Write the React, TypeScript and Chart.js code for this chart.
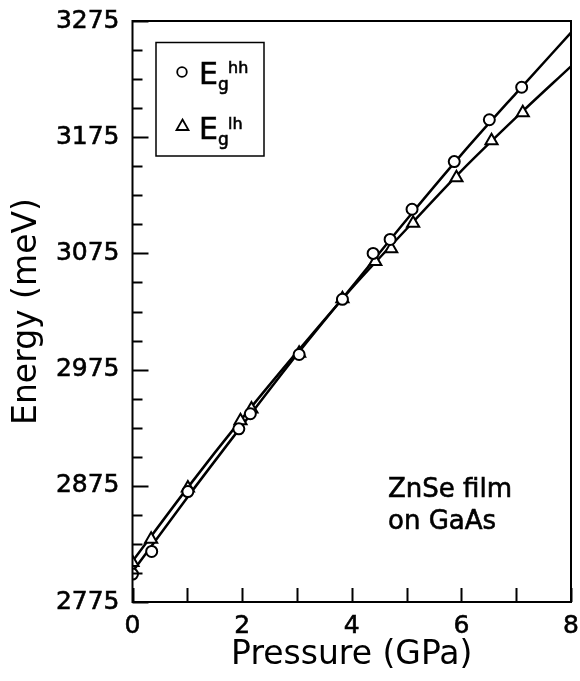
import React, { useEffect, useRef } from 'react';
import { Chart, registerables } from 'chart.js';

Chart.register(...registerables);

// Axis tick labels
const xTickLabels = [0, 2, 4, 6, 8];
const yTickLabels = [2775, 2875, 2975, 3075, 3175, 3275];

// Measured points: heavy-hole gap (circles)
const hhPressure = [0, 0.35, 1.01, 1.94, 2.15, 3.04, 3.83, 4.39, 4.7, 5.1, 5.87, 6.51, 7.1];
const hhEnergy = [2799, 2818.5, 2870, 2924, 2937, 2988, 3035.5, 3075, 3087, 3113, 3154, 3190, 3218];

// Measured points: light-hole gap (triangles)
const lhPressure = [0, 0.34, 1.01, 1.97, 2.17, 3.04, 3.83, 4.43, 4.72, 5.12, 5.91, 6.55, 7.12];
const lhEnergy = [2809, 2829, 2873, 2931, 2941, 2989, 3036, 3068, 3079, 3101, 3140, 3172, 3196];

// Fitted curves
const fitPressure = [0, 1, 2, 3, 4, 5, 6, 7, 8];
const hhFit = [2801, 2865, 2927, 2988, 3046, 3104, 3160, 3213, 3265];
const lhFit = [2810, 2873, 2933, 2990, 3045, 3096, 3146, 3192, 3236];

const FONT = '"DejaVu Sans", sans-serif';

export default function App() {
  const ref = useRef<HTMLCanvasElement>(null);

  useEffect(() => {
    const canvas = ref.current;
    if (!canvas) return;

    const framePlugin = {
      id: 'frame',
      afterDraw(chart: any) {
        const { ctx, chartArea: a, scales } = chart;
        const xs = scales.x;
        const ys = scales.y;
        ctx.save();
        ctx.strokeStyle = '#000';
        ctx.lineWidth = 2;
        ctx.strokeRect(a.left, a.top, a.right - a.left, a.bottom - a.top);

        // inward y ticks
        const yStep = (yTickLabels[1] - yTickLabels[0]) / 4;
        let i = 0;
        for (let v = yTickLabels[0]; v <= yTickLabels[yTickLabels.length - 1] + 0.01; v += yStep) {
          const py = Math.round(ys.getPixelForValue(v)) + 0.5;
          const len = i % 4 === 0 ? 16 : 10;
          ctx.beginPath();
          ctx.moveTo(a.left, py);
          ctx.lineTo(a.left + len, py);
          ctx.stroke();
          i++;
        }
        // inward x ticks
        const xStep = (xTickLabels[1] - xTickLabels[0]) / 2;
        for (let v = xTickLabels[0]; v <= xTickLabels[xTickLabels.length - 1] + 0.01; v += xStep) {
          const px = Math.round(xs.getPixelForValue(v)) + 0.5;
          ctx.beginPath();
          ctx.moveTo(px, a.bottom);
          ctx.lineTo(px, a.bottom - 14);
          ctx.stroke();
        }

        // legend box
        ctx.lineWidth = 1.5;
        ctx.strokeRect(156, 42.5, 108, 113.5);
        // circle marker
        ctx.fillStyle = '#fff';
        ctx.lineWidth = 1.8;
        ctx.beginPath();
        ctx.arc(182, 72, 4.8, 0, Math.PI * 2);
        ctx.fill();
        ctx.stroke();
        // triangle marker
        ctx.beginPath();
        ctx.moveTo(182.5, 119.5);
        ctx.lineTo(188.5, 130);
        ctx.lineTo(176.5, 130);
        ctx.closePath();
        ctx.fill();
        ctx.stroke();

        ctx.fillStyle = '#000';
        ctx.strokeStyle = '#000';
        ctx.lineWidth = 0.6;
        ctx.textAlign = 'left';
        ctx.textBaseline = 'alphabetic';
        const txt = (s: string, x: number, y: number) => {
          ctx.fillText(s, x, y);
          ctx.strokeText(s, x, y);
        };
        const drawLabel = (base: number, sup: string) => {
          ctx.font = `30px ${FONT}`;
          txt('E', 199, base);
          ctx.font = `17px ${FONT}`;
          txt('g', 218, base + 6);
          ctx.font = `16px ${FONT}`;
          txt(sup, 228, base - 10.5);
        };
        drawLabel(83.5, 'hh');
        drawLabel(139, 'lh');

        // annotation
        ctx.font = `26px ${FONT}`;
        txt('ZnSe film', 388, 497);
        txt('on GaAs', 388, 529);
        ctx.restore();
      },
    };

    const chart = new Chart(canvas, {
      type: 'scatter',
      data: {
        datasets: [
          {
            label: 'Eg hh',
            data: hhPressure.map((p, k) => ({ x: p, y: hhEnergy[k] })),
            showLine: false,
            pointStyle: 'circle',
            pointRadius: 5.5,
            pointBorderWidth: 2,
            pointBackgroundColor: '#fff',
            pointBorderColor: '#000',
            order: 0,
          },
          {
            label: 'Eg lh',
            data: lhPressure.map((p, k) => ({ x: p, y: lhEnergy[k] })),
            showLine: false,
            pointStyle: 'triangle',
            pointRadius: 7,
            pointBorderWidth: 2,
            pointBackgroundColor: '#fff',
            pointBorderColor: '#000',
            order: 0,
          },
          {
            label: 'hh fit',
            data: fitPressure.map((p, k) => ({ x: p, y: hhFit[k] })),
            showLine: true,
            pointRadius: 0,
            borderColor: '#000',
            borderWidth: 2.5,
            cubicInterpolationMode: 'monotone',
            order: 1,
          },
          {
            label: 'lh fit',
            data: fitPressure.map((p, k) => ({ x: p, y: lhFit[k] })),
            showLine: true,
            pointRadius: 0,
            borderColor: '#000',
            borderWidth: 2.5,
            cubicInterpolationMode: 'monotone',
            order: 1,
          },
        ],
      },
      options: {
        responsive: false,
        animation: false,
        devicePixelRatio: 1,
        layout: { padding: { top: 21, right: 7, left: 0, bottom: 0 } },
        plugins: {
          legend: { display: false },
          tooltip: { enabled: false },
        },
        scales: {
          x: {
            type: 'linear',
            min: xTickLabels[0],
            max: xTickLabels[xTickLabels.length - 1],
            afterBuildTicks: (s: any) => {
              s.ticks = xTickLabels.map((v) => ({ value: v }));
            },
            afterFit: (s: any) => {
              s.height = 79;
              s.paddingLeft = 0;
              s.paddingRight = 0;
            },
            grid: { display: false, drawTicks: false },
            border: { display: false },
            ticks: {
              color: '#000',
              font: { family: FONT, size: 25 },
              padding: 9,
              maxRotation: 0,
              autoSkip: false,
              textStrokeColor: '#000',
              textStrokeWidth: 0.6,
              callback: (v: any) => String(v),
            },
            title: {
              display: true,
              text: 'Pressure (GPa)',
              color: '#000',
              font: { family: FONT, size: 33 },
              padding: { top: 0, bottom: 6 },
            },
          },
          y: {
            type: 'linear',
            min: yTickLabels[0],
            max: yTickLabels[yTickLabels.length - 1],
            afterBuildTicks: (s: any) => {
              s.ticks = yTickLabels.map((v) => ({ value: v }));
            },
            afterFit: (s: any) => {
              s.width = 132.5;
              s.paddingTop = 0;
              s.paddingBottom = 0;
            },
            grid: { display: false, drawTicks: false },
            border: { display: false },
            ticks: {
              color: '#000',
              font: { family: FONT, size: 25 },
              padding: 13,
              autoSkip: false,
              textStrokeColor: '#000',
              textStrokeWidth: 0.6,
              callback: (v: any) => String(v),
            },
            title: {
              display: true,
              text: 'Energy (meV)',
              color: '#000',
              font: { family: FONT, size: 33 },
              padding: { top: 8, bottom: 0 },
            },
          },
        },
      },
      plugins: [framePlugin],
    } as any);

    return () => chart.destroy();
  }, []);

  return (
    <div style={{ position: 'absolute', left: 0, top: 0, width: 580, height: 681, background: '#fff' }}>
      <canvas ref={ref} width={580} height={681} style={{ display: 'block' }} />
    </div>
  );
}
